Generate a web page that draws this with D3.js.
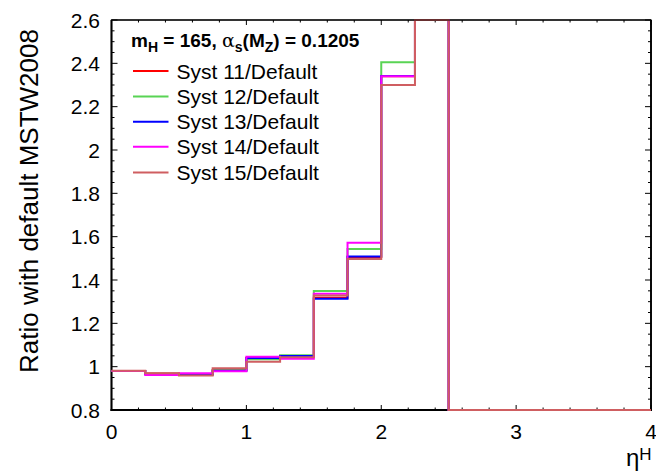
<!DOCTYPE html>
<html>
<head>
<meta charset="utf-8">
<script src="https://cdn.jsdelivr.net/npm/d3@7"></script>
<style>
  html, body { margin: 0; padding: 0; background: #fff; }
  svg { display: block; font-family: "Liberation Sans", Arial, Helvetica, sans-serif; }
</style>
</head>
<body>
<svg id="chart" width="656" height="474"></svg>
<script>
// Bin edges of the eta^H histogram (0 to 4 in steps of 0.25)
const binEdges = [0, 0.25, 0.5, 0.75, 1.0, 1.25, 1.5, 1.75, 2.0, 2.25, 2.5, 2.75, 3.0, 3.25, 3.5, 3.75, 4.0];

// Ratio of each systematic PDF set to the default MSTW2008 prediction, per bin
const syst11 = [0.980, 0.968, 0.964, 0.984, 1.040, 1.049, 1.318, 1.506, 2.340, 3.2, 0, 0, 0, 0, 0, 0];
const syst12 = [0.980, 0.967, 0.963, 0.983, 1.034, 1.053, 1.349, 1.543, 2.405, 3.2, 0, 0, 0, 0, 0, 0];
const syst13 = [0.980, 0.966, 0.965, 0.981, 1.040, 1.049, 1.314, 1.508, 2.342, 3.2, 0, 0, 0, 0, 0, 0];
const syst14 = [0.980, 0.962, 0.970, 0.979, 1.046, 1.037, 1.336, 1.572, 2.340, 3.2, 0, 0, 0, 0, 0, 0];
const syst15 = [0.981, 0.970, 0.959, 0.993, 1.023, 1.043, 1.328, 1.497, 2.300, 3.2, 0, 0, 0, 0, 0, 0];

const seriesNames = ["Syst 11/Default", "Syst 12/Default", "Syst 13/Default", "Syst 14/Default", "Syst 15/Default"];
const seriesValues = [syst11, syst12, syst13, syst14, syst15];
const seriesColors = ["#ff0000", "#59d454", "#0000ff", "#ff00ff", "#cf5e61"];

const xTickLabels = [0, 1, 2, 3, 4];
const yTickLabels = [0.8, 1, 1.2, 1.4, 1.6, 1.8, 2, 2.2, 2.4, 2.6];

const svg = d3.select("#chart");
const frameLeft = 111.5, frameRight = 651, frameTop = 20, frameBottom = 410;

const x = d3.scaleLinear().domain([0, 4]).range([frameLeft, frameRight]);
const y = d3.scaleLinear().domain([0.8, 2.6]).range([frameBottom, frameTop]).clamp(true);

// Frame
svg.append("rect")
  .attr("x", frameLeft).attr("y", frameTop)
  .attr("width", frameRight - frameLeft).attr("height", frameBottom - frameTop)
  .attr("fill", "none").attr("stroke", "#000").attr("stroke-width", 1.2);

// Inward ticks on all four sides
const xMinor = d3.range(0, 4.0001, 0.2);
const yMinor = d3.range(0.8, 2.6001, 0.05);
const isMajorX = v => Math.abs(v - Math.round(v)) < 1e-6;
const isMajorY = v => Math.abs(v * 5 - Math.round(v * 5)) < 1e-6;

const ticks = svg.append("g").attr("stroke", "#000").attr("stroke-width", 1);
xMinor.forEach(v => {
  const len = isMajorX(v) ? 5 : 2.5;
  ticks.append("line").attr("x1", x(v)).attr("x2", x(v)).attr("y1", frameBottom).attr("y2", frameBottom - len);
  ticks.append("line").attr("x1", x(v)).attr("x2", x(v)).attr("y1", frameTop).attr("y2", frameTop + len);
});
yMinor.forEach(v => {
  const len = isMajorY(v) ? 6 : 3;
  ticks.append("line").attr("y1", y(v)).attr("y2", y(v)).attr("x1", frameLeft).attr("x2", frameLeft + len);
  ticks.append("line").attr("y1", y(v)).attr("y2", y(v)).attr("x1", frameRight).attr("x2", frameRight - len);
});

// Heavier left and bottom axis lines plus the right edge
svg.append("line").attr("x1", frameLeft).attr("x2", frameLeft).attr("y1", frameTop).attr("y2", frameBottom + 1)
  .attr("stroke", "#000").attr("stroke-width", 2);
svg.append("line").attr("x1", frameLeft - 1).attr("x2", frameRight + 1).attr("y1", frameBottom).attr("y2", frameBottom)
  .attr("stroke", "#000").attr("stroke-width", 2);
svg.append("line").attr("x1", frameRight).attr("x2", frameRight).attr("y1", frameTop).attr("y2", frameBottom)
  .attr("stroke", "#000").attr("stroke-width", 1.8);

// Histograms as step lines
const step = d3.line().x(d => x(d[0])).y(d => y(d[1])).curve(d3.curveStepAfter);
seriesValues.forEach((vals, i) => {
  const pts = vals.map((v, k) => [binEdges[k], v]);
  pts.push([binEdges[binEdges.length - 1], vals[vals.length - 1]]);
  svg.append("path")
    .attr("d", step(pts))
    .attr("fill", "none")
    .attr("stroke", seriesColors[i])
    .attr("stroke-width", 2);
});

// Top frame edge stays visible above the clipped histogram
svg.append("line").attr("x1", frameLeft).attr("x2", frameRight).attr("y1", frameTop).attr("y2", frameTop)
  .attr("stroke", "#000").attr("stroke-width", 1.2);

// Tick labels
const fmt = d3.format("");
svg.append("g").selectAll("text").data(xTickLabels).join("text")
  .attr("x", d => x(d)).attr("y", 438.5)
  .attr("text-anchor", "middle").attr("font-size", 21).attr("fill", "#000")
  .text(d => fmt(d));
svg.append("g").selectAll("text").data(yTickLabels).join("text")
  .attr("x", 100).attr("y", d => y(d) + 7.5)
  .attr("text-anchor", "end").attr("font-size", 21).attr("fill", "#000")
  .text(d => fmt(d));

// Axis titles
svg.append("text")
  .attr("transform", "translate(38,201) rotate(-90)")
  .attr("text-anchor", "middle").attr("font-size", 26).attr("fill", "#000")
  .text("Ratio with default MSTW2008");

const xt = svg.append("text").attr("x", 626).attr("y", 466).attr("font-size", 24).attr("fill", "#000");
xt.append("tspan").text("η");
xt.append("tspan").attr("dy", -6).attr("font-size", 17).text("H");

// Legend title
const lt = svg.append("text").attr("x", 131).attr("y", 47)
  .attr("font-size", 19).attr("font-weight", "bold").attr("fill", "#000");
lt.append("tspan").text("m");
lt.append("tspan").attr("dy", 5).attr("font-size", 14).text("H");
lt.append("tspan").attr("dy", -5).text(" = 165, ");
lt.append("tspan").attr("font-family", "'DejaVu Serif', serif").attr("font-weight", "normal").text("α");
lt.append("tspan").attr("dy", 5).attr("font-size", 14).text("s");
lt.append("tspan").attr("dy", -5).text("(M");
lt.append("tspan").attr("dy", 5).attr("font-size", 14).text("Z");
lt.append("tspan").attr("dy", -5).text(") = 0.1205");

// Legend entries
const rowY = [71, 96.5, 121.7, 146.7, 172.5];
const leg = svg.append("g");
seriesNames.forEach((name, i) => {
  leg.append("line").attr("x1", 133).attr("x2", 168.5).attr("y1", rowY[i]).attr("y2", rowY[i])
    .attr("stroke", seriesColors[i]).attr("stroke-width", 2);
  leg.append("text").attr("x", 176.5).attr("y", rowY[i] + 7.5)
    .attr("font-size", 21).attr("fill", "#000").text(name);
});
</script>
</body>
</html>
